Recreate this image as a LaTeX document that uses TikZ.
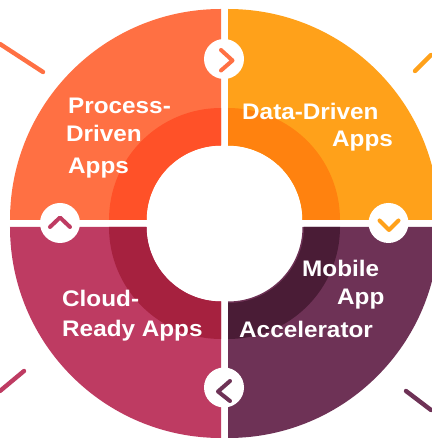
\documentclass[tikz,border=0pt]{standalone}
\usepackage{fontspec}
\setmainfont[FakeStretch=1.08]{Liberation Sans}
\definecolor{processLight}{HTML}{FF7043}
\definecolor{processDark}{HTML}{FF5128}
\definecolor{dataLight}{HTML}{FFA11A}
\definecolor{dataDark}{HTML}{FF820F}
\definecolor{cloudLight}{HTML}{BE3B62}
\definecolor{cloudDark}{HTML}{A6213F}
\definecolor{mobileLight}{HTML}{6E3256}
\definecolor{mobileDark}{HTML}{4A1C36}

\begin{document}
\begin{tikzpicture}[x=1pt,y=1pt,
	badge/.style={circle,fill=white,inner sep=0pt,minimum size=40pt},
	chevron/.style={line width=4pt,line cap=round,line join=round},
	tick/.style={line width=4.4pt,line cap=round},
	label/.style={text=white,anchor=base west,inner sep=0pt,font=\fontsize{22.5}{24}\selectfont\bfseries}]
	\useasboundingbox (-224.5,-214.5) rectangle (206.5,223.5);
	% the four quarter rings
	\foreach \cx/\cy/\st/\rin/\light/\dark in {-3.5/3.5/90/74.5/processLight/processDark,
		3.5/3.5/0/74.5/dataLight/dataDark,
		-3.5/-3.5/180/74.5/cloudLight/cloudDark,
		3.5/-3.5/270/76/mobileLight/mobileDark}{
		\fill[\light] (\cx,\cy) ++(\st:74.5) -- ++(\st:136.5) arc[start angle=\st,delta angle=90,radius=211] -- ++(\st+90:-136.5) arc[start angle=\st+90,delta angle=-90,radius=74.5] -- cycle;
		\fill[\dark] (\cx,\cy) ++(\st:\rin) -- ++(\st:112-\rin) arc[start angle=\st,delta angle=90,radius=112] -- ++(\st+90:\rin-112) arc[start angle=\st+90,delta angle=-90,radius=\rin] -- cycle;
	}
	% short rays
	\draw[tick,processLight] (-224.5,179.5) -- (-181.5,151.5);
	\draw[tick,dataLight] (190.5,152.5) -- (206.5,168.5);
	\draw[tick,cloudLight] (-200.5,-147.5) -- (-224.5,-167.5);
	\draw[tick,mobileLight] (181.5,-167.5) -- (206.5,-186.5);
	% badges
	\node[badge] (badgeTop) at (-0.5,164.5) {};
	\node[badge] (badgeLeft) at (-164.5,0.5) {};
	\node[badge] (badgeRight) at (164,0.5) {};
	\node[badge] (badgeBottom) at (-0.5,-164) {};
	\draw[chevron,processLight] ([shift={(-3,9)}]badgeTop.center) -- ([shift={(8.5,-1.5)}]badgeTop.center) -- ([shift={(-3,-11.5)}]badgeTop.center);
	\draw[chevron,cloudLight] ([shift={(-10,-4)}]badgeLeft.center) -- ([shift={(0,5.5)}]badgeLeft.center) -- ([shift={(10,-4)}]badgeLeft.center);
	\draw[chevron,dataLight] ([shift={(-9,2.5)}]badgeRight.center) -- ([shift={(0.5,-7)}]badgeRight.center) -- ([shift={(10,2.5)}]badgeRight.center);
	\draw[chevron,mobileLight] ([shift={(6,6.5)}]badgeBottom.center) -- ([shift={(-6,-4)}]badgeBottom.center) -- ([shift={(6,-13.5)}]badgeBottom.center);
	% labels, line by line
	\node[label] (process1) at (-156.5,110) {Process-};
	\node[label] (process2) at (-158.5,82) {Driven};
	\node[label] (process3) at (-156.5,50) {Apps};
	\node[label] (data1) at (17.5,104) {Data-Driven};
	\node[label] (data2) at (107.5,77) {Apps};
	\node[label] (cloud1) at (-162.5,-83) {Cloud-};
	\node[label] (cloud2) at (-162.5,-113) {Ready Apps};
	\node[label] (mobile1) at (77.5,-53) {Mobile};
	\node[label] (mobile2) at (112.5,-81) {App};
	\node[label] (mobile3) at (14.5,-114) {Accelerator};
\end{tikzpicture}
\end{document}
